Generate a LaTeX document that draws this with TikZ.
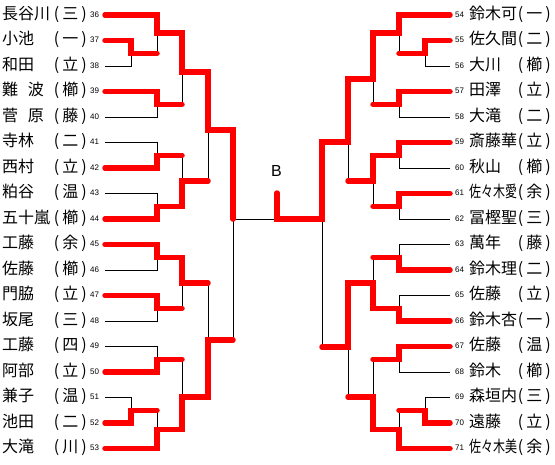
\documentclass[tikz,border=0pt]{standalone}
\usepackage{fontspec}
\usepackage{graphicx}
\setmainfont{Noto Sans CJK JP}
\newfontfamily\numfont{Liberation Sans}
\newcommand\kw{\hspace{0.6em}}
\newcommand\squeeze[1]{\resizebox{48pt}{\height}{#1}}

\begin{document}
\begin{tikzpicture}[x=1pt,y=-1pt,
  win/.style={draw=red,line width=5.5pt,line cap=round},
  lose/.style={draw=black,line width=1pt},
  pname/.style={inner sep=0pt,anchor=base west,font=\fontsize{16}{16}\selectfont},
  aff/.style={inner sep=0pt,anchor=base east,font=\fontsize{16}{16}\selectfont},
  num/.style={inner sep=0pt,anchor=base west,font=\numfont\fontsize{8}{8}\selectfont}]
\useasboundingbox (0,0) rectangle (555,464);

% left block
\foreach \n/\nm/\af [count=\i from 0] in {36/長谷川/三, 37/小池/一, 38/和田/立, 39/難\kw 波/櫛, 40/菅\kw 原/藤,
    41/寺林/二, 42/西村/立, 43/粕谷/温, 44/五十嵐/櫛, 45/工藤/余, 46/佐藤/櫛, 47/門脇/立, 48/坂尾/三,
    49/工藤/四, 50/阿部/立, 51/兼子/温, 52/池田/二, 53/大滝/川}{
  \node[pname] (n\n) at (2,15+25.5*\i+4) {\nm};
  \node[aff] (a\n) at (87,15+25.5*\i+4) {(\hspace{3pt}\af\hspace{3pt})};
  \node[num] (k\n) at (90,15+25.5*\i+2.3) {\n};
  \coordinate (p\n) at (105,15+25.5*\i);
}
% right block
\foreach \n/\nm/\af [count=\i from 0] in {54/鈴木可/一, 55/佐久間/二, 56/大川/櫛, 57/田澤/立, 58/大滝/二,
    59/斎藤華/立, 60/秋山/櫛, 61/\squeeze{佐々木愛}/余, 62/冨樫聖/三, 63/萬年/藤, 64/鈴木理/二, 65/佐藤/立,
    66/鈴木杏/一, 67/佐藤/温, 68/鈴木/櫛, 69/森垣内/三, 70/遠藤/立, 71/\squeeze{佐々木美}/余}{
  \node[num] (k\n) at (455,15+25.5*\i+2.3) {\n};
  \node[pname] (n\n) at (469,15+25.5*\i+4) {\nm};
  \node[aff] (a\n) at (551,15+25.5*\i+4) {(\hspace{3pt}\af\hspace{3pt})};
  \coordinate (p\n) at (450,15+25.5*\i);
}

% match points
\foreach \m/\x/\y in {m37/131/53.25, m36/157/33, m39/157/104.25, m36b/182/72, m41/157/155.25, m43/157/206.25,
    m41b/182/181, mLT/208/130, m45/157/257.25, m47/157/308.25, m45b/182/283, m49/157/359.25, m51/131/410.25,
    m52/157/429.4, m49b/182/397, mLB/208/340, mL/233/219,
    m55/425/53.25, m54/399/33, m57/399/104.25, m54b/373/79, m59/399/155.25, m61/399/206.25, m59b/373/181,
    mRT/348/142, m63/399/257.25, m65/399/308.25, m63b/373/283, m67/399/359.25, m69/425/410.25, m70/399/429.4,
    m67b/373/397, mRB/348/347, mR/322/219, fin/277/219, top/277/193}
  \coordinate (\m) at (\x,\y);

% lost lines
\foreach \a/\b in {p38/m37, m37/m36, p40/m39, m39/m36b, p41/m41, p43/m43, m41/m41b, m41b/mLT, p46/m45, p48/m47,
    m47/m45b, p49/m49, p51/m51, m51/m52, m49/m49b, m45b/mLB, mLB/mL, mL/fin,
    p56/m55, m55/m54, p58/m57, m57/m54b, p60/m59, p62/m61, m61/m59b, m59b/mRT, p63/m63, p65/m65, m63/m63b,
    p68/m67, p69/m69, m69/m70, m67/m67b, m67b/mRB, mRB/mR}
  \draw[lose] (\a) -| (\b);

% won lines
\draw[win] (p36) -| (m36) -| (m36b) -| (mLT) -| (mL);
\draw[win] (p37) -| (m37) -- (m37 -| m36);
\draw[win] (p39) -| (m39) -- (m39 -| m36b);
\draw[win] (p42) -| (m41) -- (m41 -| m41b);
\draw[win] (p44) -| (m43) -| (m41b) -- (m41b -| mLT);
\draw[win] (p45) -| (m45) -| (m45b) -- (m45b -| mLB);
\draw[win] (p47) -| (m47) -- (m47 -| m45b);
\draw[win] (p50) -| (m49) -- (m49 -| m49b);
\draw[win] (p52) -| (m51) -- (m51 -| m52);
\draw[win] (p53) -| (m52) -| (m49b) -| (mLB) -- (mLB -| mL);
\draw[win] (p54) -| (m54) -| (m54b) -| (mRT) -| (mR) -- (fin) -- (top);
\draw[win] (p55) -| (m55) -- (m55 -| m54);
\draw[win] (p57) -| (m57) -- (m57 -| m54b);
\draw[win] (p59) -| (m59) -| (m59b) -- (m59b -| mRT);
\draw[win] (p61) -| (m61) -- (m61 -| m59b);
\draw[win] (p64) -| (m63) -- (m63 -| m63b);
\draw[win] (p66) -| (m65) -| (m63b) -| (mRB) -- (mRB -| mR);
\draw[win] (p67) -| (m67) -- (m67 -| m67b);
\draw[win] (p70) -| (m69) -- (m69 -| m70);
\draw[win] (p71) -| (m70) -| (m67b) -- (m67b -| mRB);

\node[font=\numfont\fontsize{16}{16}\selectfont] (blk) at (276.5,171) {B};
\end{tikzpicture}
\end{document}
